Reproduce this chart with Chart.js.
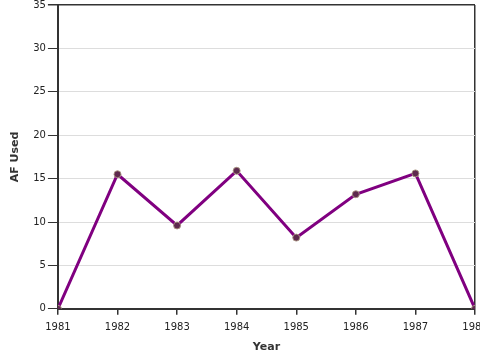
<!DOCTYPE html>
<html>
<head>
<meta charset="utf-8">
<script src="https://cdn.jsdelivr.net/npm/chart.js@4"></script>
<style>
  html, body { margin: 0; padding: 0; background: #fff; overflow: hidden; }
  #wrap { width: 480px; height: 360px; position: relative; }
</style>
</head>
<body>
<div id="wrap"><canvas id="chartCanvas"></canvas></div>
<script>
// AF used per year
const years = [1981, 1982, 1983, 1984, 1985, 1986, 1987, 1988];
const afUsed = [0, 15.5, 9.6, 15.9, 8.2, 13.2, 15.6, 0];

const ctx = document.getElementById('chartCanvas').getContext('2d');
Chart.defaults.font.family = 'DejaVu Sans';

const myChart = new Chart(ctx, {
  type: 'line',
  data: {
    datasets: [{
      label: 'AF Used',
      data: years.map((y, i) => ({ x: y, y: afUsed[i] })),
      borderColor: '#800080',
      borderWidth: 3,
      pointRadius: 3.5,
      pointBackgroundColor: '#5e2a4e',
      pointBorderColor: 'rgba(170,150,130,0.9)',
      pointBorderWidth: 1,
      tension: 0
    }]
  },
  options: {
    responsive: true,
    maintainAspectRatio: false,
    animation: false,
    layout: { padding: { top: 4, right: 5, left: 9, bottom: 6 } },
    plugins: {
      legend: { display: false },
      tooltip: { enabled: false }
    },
    scales: {
      x: {
        type: 'linear',
        min: 1981,
        max: 1988,
        afterFit: function(scale) { scale.paddingRight = 0; },
        ticks: {
          stepSize: 1,
          color: '#222',
          font: { size: 10 },
          padding: 7,
          callback: v => String(v)
        },
        grid: {
          color: c => c.tick && c.tick.value === 1988 ? '#333' : 'rgba(0,0,0,0)',
          tickColor: '#333',
          tickLength: 6,
          lineWidth: 1.5
        },
        border: { color: '#333', width: 2 },
        title: {
          display: true,
          text: 'Year',
          color: '#333',
          font: { size: 11, weight: 'bold' },
          padding: { top: 0, bottom: 0 }
        }
      },
      y: {
        min: 0,
        max: 35,
        afterFit: function(scale) { scale.paddingTop = 0; },
        ticks: {
          stepSize: 5,
          color: '#222',
          font: { size: 10 },
          padding: 2
        },
        grid: {
          color: c => c.tick && c.tick.value === 35 ? '#333' : '#dddddd',
          tickColor: '#333',
          tickLength: 10,
          lineWidth: c => c.tick && c.tick.value === 35 ? 1.5 : 1
        },
        border: { color: '#333', width: 2 },
        title: {
          display: true,
          text: 'AF Used',
          color: '#333',
          font: { size: 11, weight: 'bold' },
          padding: { top: 0, bottom: 9 }
        }
      }
    }
  }
});
</script>
</body>
</html>
